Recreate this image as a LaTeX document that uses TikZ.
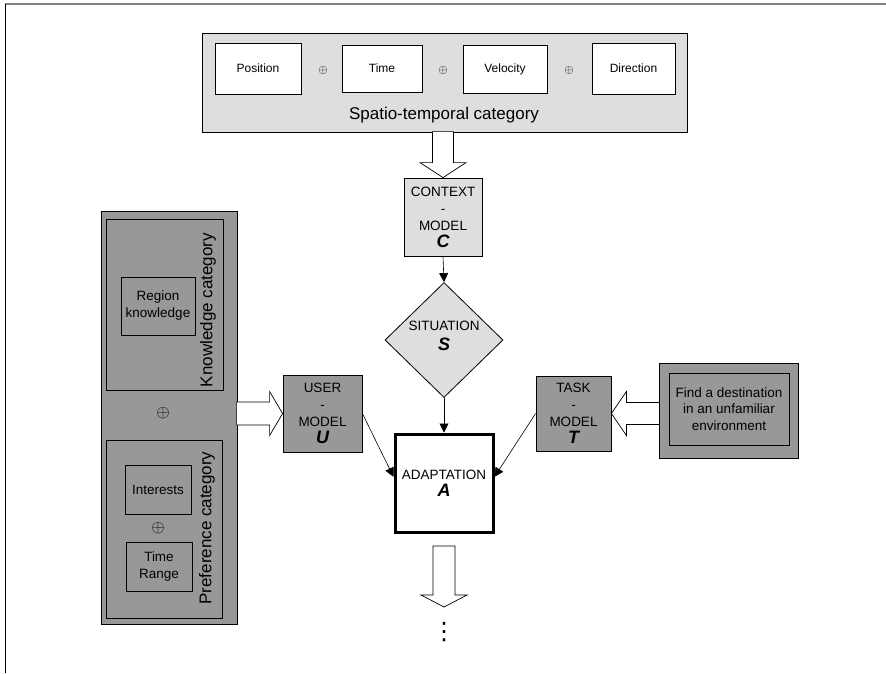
\documentclass[tikz,border=0pt]{standalone}
\usepackage{amsmath,amssymb}
\usepackage{fontspec}
\setmainfont{Liberation Sans}
\newfontfamily\symbolfont{DejaVu Sans}
\usepackage{tikz}
\usetikzlibrary{shapes.geometric,arrows.meta,calc}
\definecolor{lightfill}{RGB}{222,222,222}
\definecolor{darkfill}{RGB}{152,152,152}
\newcommand{\modelletter}[1]{{\fontsize{18}{20}\selectfont\bfseries\itshape #1}}
\tikzset{
  box/.style={draw, line width=0.8pt, inner sep=0pt, align=center},
  lightbox/.style={box, fill=lightfill},
  darkbox/.style={box, fill=darkfill},
  itembox/.style={box, fill=white, font=\fontsize{12}{14}\selectfont},
  modelbox/.style={box, font=\fontsize{13.5}{17}\selectfont},
  catlabel/.style={font=\fontsize{17}{20}\selectfont},
  plus/.style={font=\fontsize{13}{14}\selectfont},
  bigplus/.style={font=\fontsize{17}{18}\selectfont},
  link/.style={line width=0.6pt, -{Triangle[length=9pt,width=9pt]}},
  blockarrow/.style={draw, line width=0.7pt, fill=white}
}
\begin{document}
\begin{tikzpicture}[x=1pt, y=-1pt]
          \useasboundingbox (0,0) rectangle (886,673);
          \draw[gray, line width=2pt] (5,4) -- (886,4);
          \draw[line width=0.8pt] (5,4) -- (5,673);
          % spatio-temporal category
          \node[lightbox, minimum width=485, minimum height=99] (spatio) at (444.5,82.5) {};
          \node[itembox, minimum width=86, minimum height=51] (position) at (258,68.5) {Position};
          \node[itembox, minimum width=80, minimum height=47] (time) at (382,68.5) {Time};
          \node[itembox, minimum width=84, minimum height=48] (velocity) at (505,69) {Velocity};
          \node[itembox, minimum width=83, minimum height=51] (direction) at (633.5,68.5) {Direction};
          \node[plus] (plusA) at (323,70) {$\oplus$};
          \node[plus] (plusB) at (443,70) {$\oplus$};
          \node[plus] (plusC) at (569,70) {$\oplus$};
          \node[catlabel] (spatiolabel) at (444,115) {Spatio-temporal category};
          % context and situation
          \node[lightbox, modelbox, minimum width=78, minimum height=78] (context) at (443,217)
               {CONTEXT\\-\\MODEL\\\modelletter{C}};
          \node[draw, diamond, line width=0.8pt, fill=lightfill, inner sep=0pt,
                minimum width=118, minimum height=115] (situation) at (444,340) {};
          \node[modelbox, draw=none, font=\fontsize{13.5}{20}\selectfont] (situationlabel) at (444,336) {SITUATION\\\modelletter{S}};
          % adaptation
          \node[box, modelbox, fill=white, line width=3pt, minimum width=98, minimum height=98] (adapt) at (444,483)
               {ADAPTATION\\\modelletter{A}};
          % user side
          \node[darkbox, minimum width=136, minimum height=413] (userctx) at (169,417.5) {};
          \node[darkbox, minimum width=117, minimum height=171] (knowledge) at (164.5,304.5) {};
          \node[darkbox, font=\fontsize{13.5}{17}\selectfont, minimum width=74, minimum height=58] (region) at (158,306) {Region\\knowledge};
          \node[catlabel, rotate=90] (knowledgelabel) at (208,310) {Knowledge category};
          \node[bigplus] (plusD) at (163,413) {$\oplus$};
          \node[darkbox, minimum width=116, minimum height=178] (preference) at (164,529) {};
          \node[darkbox, font=\fontsize{13.5}{17}\selectfont, minimum width=66, minimum height=49] (interests) at (158,489.5) {Interests};
          \node[bigplus] (plusE) at (158,528) {$\oplus$};
          \node[darkbox, font=\fontsize{13.5}{17}\selectfont, minimum width=66, minimum height=49] (timerange) at (159,566.5) {Time\\Range};
          \node[catlabel, rotate=90] (preferencelabel) at (207,528) {Preference category};
          \node[darkbox, modelbox, minimum width=79, minimum height=77] (user) at (322.5,413.5)
               {USER\\-\\MODEL\\\modelletter{U}};
          % task side
          \node[darkbox, modelbox, minimum width=75, minimum height=75] (task) at (573.5,413.5)
               {TASK\\-\\MODEL\\\modelletter{T}};
          \node[darkbox, minimum width=139, minimum height=95] (taskctx) at (728.5,410.5) {};
          \node[darkbox, font=\fontsize{13.5}{16.5}\selectfont, minimum width=120, minimum height=72] (goal) at (729,409)
               {Find a destination\\in an unfamiliar\\environment};
          % output
          \coordinate (outtip) at (444,607);
          \node[font=\symbolfont\fontsize{24}{26}\selectfont] (dots) at (444,632) {⋮};
          % connectors
          \draw[link] (context.south) -- (situation.north);
          \draw[link] (situation.south) -- (adapt.north);
          \draw[link] (user.east) -- (adapt.173);
          \draw[link] (task.west) -- (adapt.7);
          \draw[blockarrow] (context.north) -- ++(-23,-15) -- ++(12.5,0) -- ++(0,-31) -- ++(21,0) -- ++(0,31) -- ++(12.5,0) -- cycle;
          \draw[blockarrow] (user.west) -- ++(-13,-22) -- ++(0,10.5) -- ++(-33,0) -- ++(0,23) -- ++(33,0) -- ++(0,10.5) -- cycle;
          \draw[blockarrow] (task.east) -- ++(15,-22) -- ++(0,11) -- ++(33,0) -- ++(0,22) -- ++(-33,0) -- ++(0,11) -- cycle;
          \draw[blockarrow] (outtip) -- ++(-23,-12) -- ++(12,0) -- ++(0,-49) -- ++(22,0) -- ++(0,49) -- ++(12,0) -- cycle;
\end{tikzpicture}
\end{document}
